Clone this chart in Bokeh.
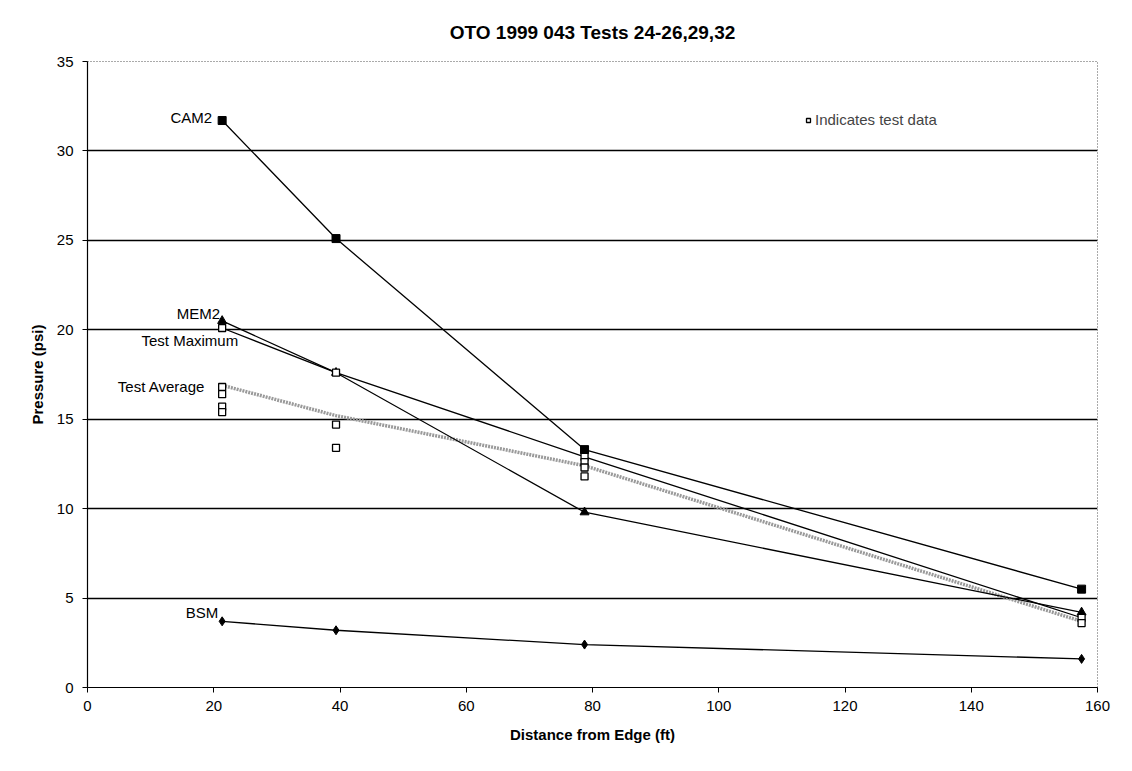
from bokeh.plotting import figure
from bokeh.models import Legend, LegendItem, Range1d, FixedTicker
from bokeh.core.properties import value
from bokeh.embed import file_html
from bokeh.resources import INLINE

# distances (ft)
dist = [21.33, 39.37, 78.74, 157.48]
cam2 = [31.7, 25.1, 13.3, 5.5]
mem2 = [20.5, 17.6, 9.8, 4.2]
test_max = [20.1, 17.6, 12.9, 3.9]
test_avg = [16.9, 15.2, 12.4, 3.7]
bsm = [3.7, 3.2, 2.4, 1.6]
test_x = [21.33, 21.33, 21.33, 21.33, 21.33, 39.37, 39.37, 39.37,
          78.74, 78.74, 78.74, 78.74, 157.48, 157.48]
test_y = [20.1, 16.8, 16.4, 15.7, 15.4, 17.6, 14.7, 13.4,
          12.9, 12.6, 12.3, 11.8, 3.9, 3.6]
x_ticks = [0, 20, 40, 60, 80, 100, 120, 140, 160]
y_ticks = [0, 5, 10, 15, 20, 25, 30, 35]

FONT = "Liberation Sans"

p = figure(width=1132, height=771, output_backend="svg", toolbar_location=None,
           x_range=Range1d(0, 160), y_range=Range1d(0, 35),
           min_border_left=87, min_border_right=35, min_border_top=61,
           min_border_bottom=84)

p.title.text = "OTO 1999 043 Tests 24-26,29,32"
p.title.align = "center"
p.title.text_font = FONT
p.title.text_font_size = "19px"
p.title.text_font_style = "bold"
p.title.text_color = "black"
p.title.offset = 0
p.title.standoff = 37

p.outline_line_color = "#555"
p.outline_line_dash = "1 2"
p.xgrid.visible = False
p.ygrid.grid_line_color = "black"
p.ygrid.grid_line_width = 1.3
p.ygrid.ticker = FixedTicker(ticks=y_ticks)

for ax in (p.xaxis[0], p.yaxis[0]):
    ax.axis_line_color = "black"
    ax.axis_line_width = 1.2
    ax.major_tick_out = 5
    ax.major_tick_in = 0
    ax.minor_tick_out = 0
    ax.minor_tick_in = 0
    ax.major_label_text_font = FONT
    ax.major_label_text_font_size = "15px"
    ax.major_label_text_color = "black"
    ax.axis_label_text_font = FONT
    ax.axis_label_text_font_size = "15px"
    ax.axis_label_text_font_style = "bold"
    ax.axis_label_text_color = "black"

p.xaxis.ticker = FixedTicker(ticks=x_ticks)
p.yaxis.ticker = FixedTicker(ticks=y_ticks)
p.xaxis.axis_label = "Distance from Edge (ft)"
p.yaxis.axis_label = "Pressure (psi)"
p.xaxis.major_label_standoff = 8
p.yaxis.major_label_standoff = 9
p.xaxis.axis_label_standoff = 12
p.yaxis.axis_label_standoff = 8

# lines
p.line(dist, test_avg, line_color="#9a9a9a", line_width=3.5, line_dash="2 1")
p.line(dist, test_max, line_color="black", line_width=1.3)
p.line(dist, cam2, line_color="black", line_width=1.3)
p.line(dist, mem2, line_color="black", line_width=1.3)
p.line(dist, bsm, line_color="black", line_width=1.3)

# markers
p.scatter(dist, cam2, marker="square", size=8, fill_color="black", line_color="black")
p.scatter(dist, mem2, marker="triangle", size=9, fill_color="black", line_color="black")
p.scatter(dist, bsm, marker="diamond", size=9, fill_color="black", line_color="black")
tr = p.scatter(test_x, test_y, marker="square", size=7, fill_color="white",
               line_color="black", line_width=1.3)

# series labels anchored to first points
lab_style = dict(text_font=value(FONT), text_font_size="15px", text_color="black",
                 text_align="right", text_baseline="middle")
p.text(x=[dist[0]], y=[cam2[0]], text=["CAM2"], x_offset=-10, y_offset=-3, **lab_style)
p.text(x=[dist[0]], y=[mem2[0]], text=["MEM2"], x_offset=-2, y_offset=-7, **lab_style)
p.text(x=[dist[0]], y=[test_max[0]], text=["Test Maximum"], x_offset=16, y_offset=13, **lab_style)
p.text(x=[dist[0]], y=[test_avg[0]], text=["Test Average"], x_offset=-17, y_offset=1, **lab_style)
p.text(x=[dist[0]], y=[bsm[0]], text=["BSM"], x_offset=-4, y_offset=-9, **lab_style)

legend = Legend(items=[LegendItem(label="Indicates test data", renderers=[tr])],
                location=(716, 559), padding=0, margin=0, border_line_color=None,
                background_fill_alpha=0, glyph_width=10, glyph_height=10,
                label_standoff=2, label_text_font=FONT, label_text_font_size="15px")
p.add_layout(legend, "center")

open("out.html", "w").write(file_html(p, INLINE))
